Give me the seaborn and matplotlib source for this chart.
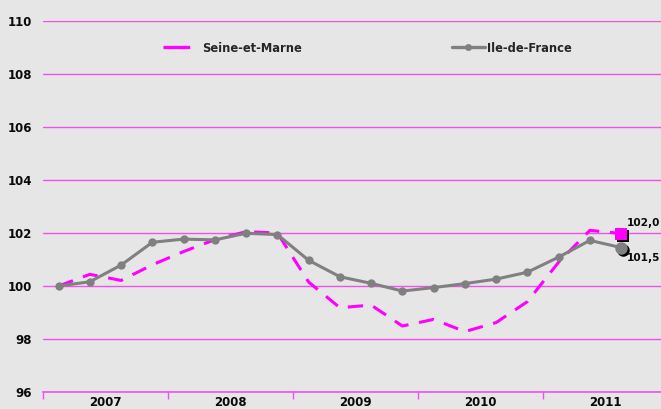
import numpy as np
import pandas as pd
import matplotlib
matplotlib.use("Agg")
import matplotlib.pyplot as plt
import matplotlib.transforms as mtransforms
from matplotlib.lines import Line2D
import seaborn as sns

# ---- data ----
years = ["2007", "2008", "2009", "2010", "2011"]
quarters = list(range(19))  # 2007Q1 .. 2011Q3
seine_et_marne = [100.0, 100.44, 100.21, 100.80, 101.30, 101.75, 102.05, 102.00,
                  100.15, 99.18, 99.28, 98.49, 98.74, 98.28, 98.62, 99.41,
                  100.90, 102.10, 101.98]
ile_de_france = [100.0, 100.16, 100.79, 101.65, 101.77, 101.74, 101.99, 101.94,
                 100.97, 100.35, 100.10, 99.81, 99.94, 100.09, 100.26, 100.52,
                 101.09, 101.72, 101.45]
end_labels = ["102,0", "101,5"]
yticks = [96, 98, 100, 102, 104, 106, 108, 110]

df = pd.DataFrame({"q": quarters, "sem": seine_et_marne, "idf": ile_de_france})

sns.set_theme(style="white")
plt.rcParams["font.family"] = ["DejaVu Sans"]

BG = "#e6e6e6"
MAG = "#ff00ff"
GRID = "#f050f0"
GREY = "#808080"
TXT = "#0a0a0a"

fig = plt.figure(figsize=(6.61, 4.09), dpi=100, facecolor=BG)
ax = fig.add_axes([43 / 661, 17 / 409, 625 / 661, 371 / 409])
ax.set_facecolor(BG)

sns.lineplot(data=df, x="q", y="sem", ax=ax, color=MAG, lw=2.2,
             linestyle=(0, (5, 3.5)), label="_nolegend_")
sns.lineplot(data=df, x="q", y="idf", ax=ax, color=GREY, lw=2.2,
             marker="o", markersize=6, markeredgewidth=0, label="_nolegend_")

# end markers with shadow
lx = quarters[-1]
shadow = mtransforms.offset_copy(ax.transData, fig=fig, x=2, y=-2, units="dots")
ax.plot([lx], [ile_de_france[-1]], marker="o", ms=9, color="black", mew=0,
        transform=shadow, zorder=5)
ax.plot([lx], [ile_de_france[-1]], marker="o", ms=9, color=GREY, mew=0, zorder=6)
ax.plot([lx], [seine_et_marne[-1]], marker="s", ms=9, color="black", mew=0,
        transform=shadow, zorder=5)
ax.plot([lx], [seine_et_marne[-1]], marker="s", ms=9, color=MAG, mew=0, zorder=6)

ax.text(lx + 0.17, seine_et_marne[-1] + 0.38, end_labels[0], fontsize=7.6,
        fontweight="bold", color=TXT, va="center", ha="left")
ax.text(lx + 0.17, ile_de_france[-1] - 0.38, end_labels[1], fontsize=7.6,
        fontweight="bold", color=TXT, va="center", ha="left")

ax.set_xlim(-0.5, 19.5)
ax.set_ylim(96, 110)
ax.set_yticks(yticks)
ax.set_yticklabels([str(v) for v in yticks], fontsize=8.5, fontweight="bold",
                   color=TXT)
ax.yaxis.grid(True, color=GRID, lw=1)
ax.set_axisbelow(True)

# x axis: year boundaries as major ticks, year names on minor ticks
ax.set_xticks([-0.5, 3.5, 7.5, 11.5, 15.5])
ax.set_xticklabels([])
ax.set_xticks([1.5, 5.5, 9.5, 13.5, 17.5], minor=True)
ax.set_xticklabels(years, minor=True, fontsize=8.5, fontweight="bold",
                   color=TXT)
ax.tick_params(axis="x", which="major", length=5, width=1, color=GRID,
               direction="out", bottom=True)
ax.tick_params(axis="x", which="minor", length=0, pad=3)
ax.tick_params(axis="y", length=0, pad=8)
ax.set_xlabel("")
ax.set_ylabel("")

for s in ["top", "right", "left"]:
    ax.spines[s].set_visible(False)
ax.spines["bottom"].set_color(GRID)
ax.spines["bottom"].set_linewidth(1.2)

# legends
h1 = [Line2D([], [], color=MAG, lw=2.4, linestyle=(0, (8, 3)))]
h2 = [Line2D([], [], color=GREY, lw=2.4, marker="o", ms=5, mew=0)]
leg1 = ax.legend(h1, ["Seine-et-Marne"], loc="center left",
                 bbox_to_anchor=(133 / 625 - 0.03, (409 - 48 - 17) / 371),
                 frameon=False, prop={"size": 8.3, "weight": "bold"},
                 handlelength=3.0, handletextpad=0.4, borderpad=0)
ax.add_artist(leg1)
leg2 = ax.legend(h2, ["Ile-de-France"], loc="center left",
                 bbox_to_anchor=((452 - 43) / 625 - 0.01, (409 - 48 - 17) / 371),
                 frameon=False, prop={"size": 8.3, "weight": "bold"},
                 handlelength=2.9, handletextpad=0.2, borderpad=0)

fig.savefig("out.png", dpi=100, facecolor=BG)
